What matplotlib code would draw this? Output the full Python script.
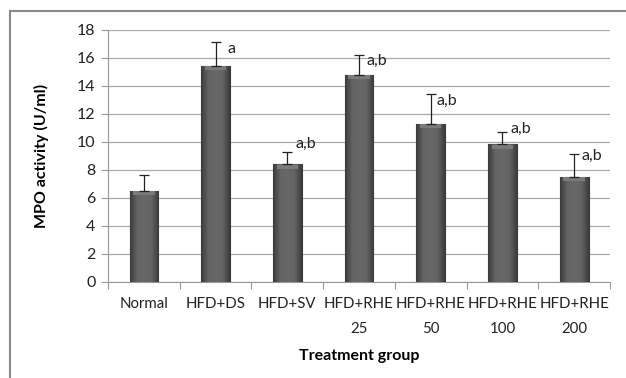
import numpy as np
import matplotlib.pyplot as plt
from matplotlib.lines import Line2D
from matplotlib.colors import LinearSegmentedColormap

groups = ["Normal", "HFD+DS", "HFD+SV", "HFD+RHE\n25", "HFD+RHE\n50",
          "HFD+RHE\n100", "HFD+RHE\n200"]
mpo = [6.5, 15.42, 8.4, 14.78, 11.28, 9.82, 7.52]
err = [1.17, 1.74, 0.86, 1.4, 2.15, 0.9, 1.62]
letters = ["", "a", "a,b", "a,b", "a,b", "a,b", "a,b"]
# nudges for the significance letters, in pixels (dx, dy)
letter_dx = [0, 12, 8, 7, 6, 8, 7]
letter_dy = [0, -7, 8, -6, -7, 3, -2]

plt.rcParams["font.family"] = ["Lato", "DejaVu Sans"]

fig = plt.figure(figsize=(6.26, 3.78), dpi=100)
ax = fig.add_axes([0.1725, 0.254, 0.802, 0.667])

x = np.arange(len(groups))
bw = 0.4
bars = ax.bar(x, mpo, width=bw, color="#5c5c5c", edgecolor="#3a3a3a",
              linewidth=0.8, zorder=3)

# shaded look: darker sides, lighter middle, light bevel on top
cmap = LinearSegmentedColormap.from_list("bar", ["#3c3c3c", "#646464", "#686868", "#646464", "#3c3c3c"])
grad = np.linspace(0, 1, 64).reshape(1, -1)
for b in bars:
    x0, h = b.get_x(), b.get_height()
    im = ax.imshow(grad, cmap=cmap, aspect="auto", extent=[x0, x0 + bw, 0, h],
                   zorder=3.5, interpolation="bilinear")
    im.set_clip_path(b)
    cap = ax.fill_between([x0 + 0.05, x0 + bw - 0.05], h - 0.3, h - 0.03,
                          color="#7a7a7a", linewidth=0, zorder=3.6)
    cap.set_clip_path(b)
ax.set_aspect("auto")

ax.errorbar(x, mpo, yerr=[[0] * len(err), err], fmt="none", ecolor="#222222",
            elinewidth=0.9, capsize=3.5, capthick=0.9, zorder=4)
for i, (v, e, t) in enumerate(zip(mpo, err, letters)):
    if t:
        ax.annotate(t, (i, v + e), xytext=(letter_dx[i], letter_dy[i]),
                    textcoords="offset pixels", fontsize=11.5, ha="left",
                    va="center", color="#222222", zorder=5)

ax.set_xlim(-0.5, len(groups) - 0.5)
ax.set_ylim(0, 18)
ax.set_yticks(range(0, 19, 2))
ax.set_xticks([i + 0.5 for i in range(-1, len(groups))])
ax.set_xticklabels([])
ax.set_xticks(list(x), minor=True)
ax.set_xticklabels(groups, minor=True, fontsize=10.8)
ax.tick_params(axis="x", which="major", length=5, color="#999999", direction="out")
ax.tick_params(axis="x", which="minor", length=0, pad=11)
ax.tick_params(axis="y", length=5, color="#999999", labelsize=11.5, pad=4,
               labelcolor="#222222")
for lbl in ax.get_xticklabels(minor=True):
    lbl.set_linespacing(1.95)
    lbl.set_color("#222222")

ax.grid(axis="y", color="#aaaaaa", linewidth=0.9, zorder=0)
for s in ["top", "right"]:
    ax.spines[s].set_visible(False)
ax.spines["left"].set_color("#999999")
ax.spines["bottom"].set_color("#999999")

ax.set_ylabel("MPO activity (U/ml)", fontsize=11.5, fontweight="bold")
ax.yaxis.set_label_coords(-0.117, 0.5)
ax.set_xlabel("Treatment group", fontsize=11.5, fontweight="bold")
ax.xaxis.set_label_coords(0.5, -0.265)

# outer chart frame (top and left edges visible)
fig.add_artist(Line2D([10 / 626, 1], [1 - 11 / 378, 1 - 11 / 378],
                      transform=fig.transFigure, color="#8a8a8a", linewidth=1.5))
fig.add_artist(Line2D([10 / 626, 10 / 626], [0, 1 - 11 / 378],
                      transform=fig.transFigure, color="#8a8a8a", linewidth=1.5))

fig.savefig("out.png", dpi=100)
